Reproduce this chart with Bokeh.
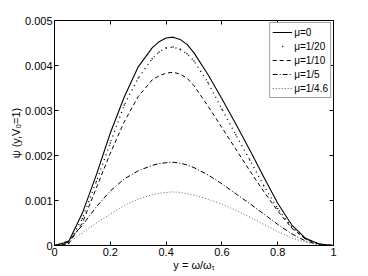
from bokeh.plotting import figure
from bokeh.models import LinearAxis, FixedTicker, Legend, LegendItem
from bokeh.embed import file_html
from bokeh.resources import INLINE

# ---- data ----
y_freq = [0.00, 0.05, 0.10, 0.15, 0.20, 0.25, 0.30, 0.35, 0.375, 0.40, 0.425, 0.45, 0.475, 0.50,
          0.55, 0.60, 0.65, 0.70, 0.75, 0.80, 0.85, 0.90, 0.95, 1.00]
psi_mu0 = [0, 0.00008, 0.00072, 0.00157, 0.00250, 0.00330, 0.00397, 0.00439, 0.00453, 0.00461, 0.00463,
           0.00458, 0.00447, 0.00428, 0.00380, 0.00326, 0.00270, 0.00212, 0.00152, 0.00094, 0.00046,
           0.00016, 0.00003, 0]
psi_mu20 = [0, 0.00005, 0.00060, 0.00142, 0.00228, 0.00312, 0.00372, 0.00415, 0.00430, 0.00439, 0.00441,
            0.00436, 0.00426, 0.00410, 0.00362, 0.00303, 0.00246, 0.00190, 0.00133, 0.00082, 0.00041,
            0.00015, 0.00003, 0]
psi_mu10 = [0, 0.00003, 0.00050, 0.00128, 0.00205, 0.00275, 0.00331, 0.00368, 0.00377, 0.00383, 0.00385,
            0.00381, 0.00372, 0.00355, 0.00310, 0.00262, 0.00214, 0.00166, 0.00120, 0.00077, 0.00039,
            0.00014, 0.00003, 0]
psi_mu5 = [0, 0.00010, 0.00045, 0.00086, 0.00121, 0.00148, 0.00166, 0.00178, 0.00182, 0.00184, 0.00185,
           0.00183, 0.00179, 0.00173, 0.00157, 0.00137, 0.00115, 0.00093, 0.00070, 0.00047, 0.00026,
           0.00010, 0.00002, 0]
psi_mu46 = [0, 0.00006, 0.00028, 0.00050, 0.00070, 0.00089, 0.00103, 0.00113, 0.00116, 0.00118, 0.00119,
            0.00118, 0.00115, 0.00112, 0.00103, 0.00092, 0.00078, 0.00063, 0.00047, 0.00031, 0.00017,
            0.00007, 0.00001, 0]
series_labels = ["\u03bc=0", "\u03bc=1/20", "\u03bc=1/10", "\u03bc=1/5", "\u03bc=1/4.6"]

x_ticks = [0, 0.2, 0.4, 0.6, 0.8, 1]
x_tick_labels = ["0", "0.2", "0.4", "0.6", "0.8", "1"]
y_ticks = [0, 0.001, 0.002, 0.003, 0.004, 0.005]
y_tick_labels = ["0", "0.001", "0.002", "0.003", "0.004", "0.005"]

FONT = "Liberation Sans"

p = figure(width=368, height=276, x_range=(0, 1), y_range=(0, 0.005),
           output_backend="svg", toolbar_location=None,
           min_border_left=54, min_border_right=35, min_border_top=20, min_border_bottom=31)
p.xgrid.visible = False
p.ygrid.visible = False
p.outline_line_color = "black"
p.outline_line_width = 1


def style(ax, ticks, labels, show):
    ax.ticker = FixedTicker(ticks=ticks)
    ax.major_tick_in = 4
    ax.major_tick_out = 0
    ax.minor_tick_line_color = None
    ax.axis_line_color = "black"
    ax.major_tick_line_color = "black"
    if show:
        ax.major_label_overrides = {t: l for t, l in zip(ticks, labels)}
        ax.major_label_text_font = FONT
        ax.major_label_text_font_size = "11px"
        ax.major_label_text_color = "black"
        ax.major_label_standoff = 2
    else:
        ax.major_label_overrides = {t: "" for t in ticks}
        ax.major_label_text_font_size = "0px"
        ax.major_label_standoff = 0


style(p.xaxis[0], x_ticks, x_tick_labels, True)
style(p.yaxis[0], y_ticks, y_tick_labels, True)
p.xaxis[0].axis_label = "y = \u03c9/\u03c9\u209c"
p.yaxis[0].axis_label = "\u03c8 (y,V\u2080=1)"
for ax in (p.xaxis[0], p.yaxis[0]):
    ax.axis_label_text_font = FONT
    ax.axis_label_text_font_size = "11px"
    ax.axis_label_text_font_style = "normal"
    ax.axis_label_text_color = "black"
    ax.axis_label_standoff = 0

top = LinearAxis()
style(top, x_ticks, x_tick_labels, False)
p.add_layout(top, "above")
right = LinearAxis()
style(right, y_ticks, y_tick_labels, False)
p.add_layout(right, "right")

r0 = p.line(y_freq, psi_mu0, line_color="black", line_width=1.1, line_join="round")
r20 = p.line(y_freq, psi_mu20, line_color="black", line_width=1.3, line_dash="1 4", line_join="round")
r20d = p.scatter(y_freq, psi_mu20, marker="dot", size=6, color="black")
r10 = p.line(y_freq, psi_mu10, line_color="black", line_width=1, line_dash="4 3", line_join="round")
r5 = p.line(y_freq, psi_mu5, line_color="black", line_width=1, line_dash="5 2 1 2", line_join="round")
r46 = p.line(y_freq, psi_mu46, line_color="#666666", line_width=1, line_dash="1 2", line_join="round")

legend = Legend(items=[
    LegendItem(label=series_labels[0], renderers=[r0]),
    LegendItem(label=series_labels[1], renderers=[r20d]),
    LegendItem(label=series_labels[2], renderers=[r10]),
    LegendItem(label=series_labels[3], renderers=[r5]),
    LegendItem(label=series_labels[4], renderers=[r46]),
], location="top_right")
legend.margin = 2
legend.padding = 2
legend.spacing = 0
legend.glyph_width = 20
legend.glyph_height = 14
legend.label_height = 14
legend.label_standoff = 2
legend.label_text_font = FONT
legend.label_text_font_size = "10px"
legend.label_text_color = "black"
legend.border_line_color = "#444444"
legend.border_line_width = 1
legend.background_fill_color = "white"
legend.background_fill_alpha = 1
p.add_layout(legend)

open("out.html", "w").write(file_html(p, INLINE))
